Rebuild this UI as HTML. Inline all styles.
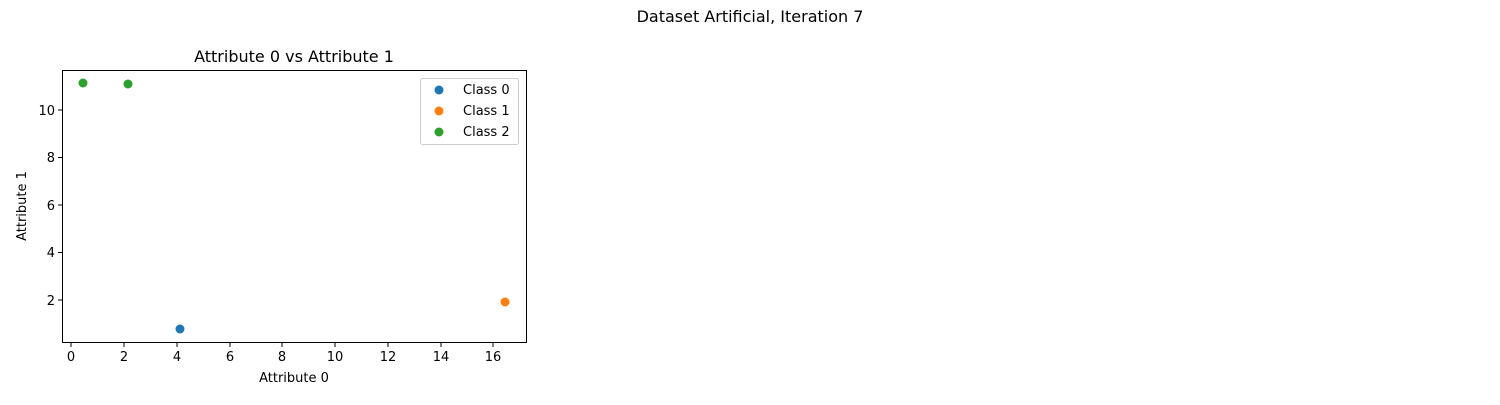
<!DOCTYPE html>
<html><head><style>body{margin:0;background:#fff}svg text{font-family:"DejaVu Sans","Liberation Sans",sans-serif;fill:#000}</style></head><body>
<svg width="1500" height="400" xmlns="http://www.w3.org/2000/svg">
<text x="750" y="22" font-size="16" text-anchor="middle">Dataset Artificial, Iteration 7</text>
<text x="294" y="62" font-size="16" text-anchor="middle">Attribute 0 vs Attribute 1</text>
<rect x="62.5" y="70.5" width="464" height="272" fill="none" stroke="#000" stroke-width="1"/>
<g stroke="#000" stroke-width="1">
<line x1="71" y1="343" x2="71" y2="347"/><line x1="124" y1="343" x2="124" y2="347"/><line x1="177" y1="343" x2="177" y2="347"/><line x1="230" y1="343" x2="230" y2="347"/><line x1="282" y1="343" x2="282" y2="347"/><line x1="335" y1="343" x2="335" y2="347"/><line x1="388" y1="343" x2="388" y2="347"/><line x1="441" y1="343" x2="441" y2="347"/><line x1="493" y1="343" x2="493" y2="347"/>
<line x1="58" y1="110" x2="62" y2="110"/><line x1="58" y1="157.5" x2="62" y2="157.5"/><line x1="58" y1="205" x2="62" y2="205"/><line x1="58" y1="252.5" x2="62" y2="252.5"/><line x1="58" y1="300" x2="62" y2="300"/>
</g>
<g font-size="13" text-anchor="middle">
<text x="71" y="361">0</text><text x="124" y="361">2</text><text x="177" y="361">4</text><text x="230" y="361">6</text><text x="282" y="361">8</text><text x="335" y="361">10</text><text x="388" y="361">12</text><text x="441" y="361">14</text><text x="493" y="361">16</text>
</g>
<g font-size="13" text-anchor="end">
<text x="55" y="115">10</text><text x="55" y="162">8</text><text x="55" y="210">6</text><text x="55" y="257">4</text><text x="55" y="305">2</text>
</g>
<text x="294" y="382" font-size="13" text-anchor="middle">Attribute 0</text>
<text transform="translate(26,206) rotate(-90)" font-size="13" text-anchor="middle">Attribute 1</text>
<circle cx="83" cy="83" r="4.5" fill="#2ca02c"/>
<circle cx="128" cy="84" r="4.5" fill="#2ca02c"/>
<circle cx="180" cy="329" r="4.5" fill="#1f77b4"/>
<circle cx="505" cy="302" r="4.5" fill="#ff7f0e"/>
<rect x="420.5" y="78.5" width="98" height="66" rx="2" fill="#fff" stroke="#ccc"/>
<circle cx="439" cy="90" r="4.5" fill="#1f77b4"/>
<circle cx="439" cy="111" r="4.5" fill="#ff7f0e"/>
<circle cx="439" cy="132" r="4.5" fill="#2ca02c"/>
<g font-size="13"><text x="463" y="94">Class 0</text><text x="463" y="115">Class 1</text><text x="463" y="136">Class 2</text></g>
</svg>
</body></html>
